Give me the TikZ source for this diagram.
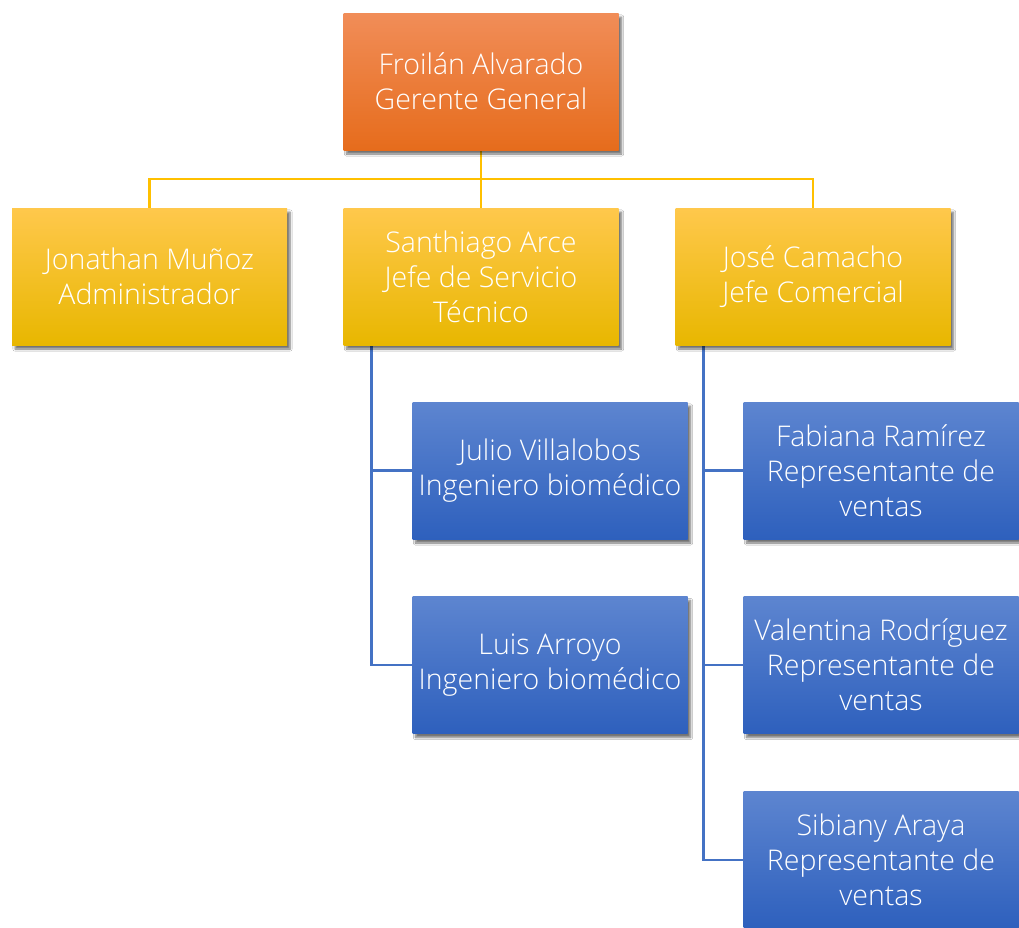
\documentclass[tikz,border=0pt]{standalone}
\usepackage{fontspec}
\setmainfont{Open Sans Light}
\usetikzlibrary{shadows.blur,backgrounds}
\definecolor{orTop}{HTML}{F18D58}
\definecolor{orBot}{HTML}{E66C1C}
\definecolor{yeTop}{HTML}{FFC84C}
\definecolor{yeMid}{HTML}{FFC300}
\definecolor{yeBot}{HTML}{E8B700}
\definecolor{blTop}{HTML}{5D85D0}
\definecolor{blBot}{HTML}{2E60BD}
\definecolor{yeLine}{HTML}{FFC000}
\definecolor{blLine}{HTML}{4472C4}
\tikzset{
  card/.style={minimum width=275pt, minimum height=137pt, inner sep=0pt,
    text=white, align=center, font=\fontsize{28.5}{35}\selectfont,
    blur shadow={shadow xshift=3pt, shadow yshift=-4pt, shadow opacity=55, shadow blur steps=6}},
  chief/.style={card, top color=orTop, bottom color=orBot},
  head/.style={card, top color=yeTop, middle color=yeMid, bottom color=yeBot},
  staff/.style={card, top color=blTop, bottom color=blBot},
  ylink/.style={draw=yeLine, line width=2.5pt},
  blink/.style={draw=blLine, line width=2.5pt}
}
\begin{document}
\begin{tikzpicture}[x=1pt, y=-1pt]
\useasboundingbox (0,0) rectangle (1019,927);

\node[chief] (top) at (481,81.5) {Froilán Alvarado\\Gerente General};
\node[head] (jon) at (149.5,276.5) {Jonathan Muñoz\\Administrador};
\node[head] (san) at (481,276.5) {Santhiago Arce\\Jefe de Servicio\\Técnico};
\node[head] (jose) at (813,276.5) {José Camacho\\Jefe Comercial};

\node[staff] (julio) at (550,470.5) {Julio Villalobos\\Ingeniero biomédico};
\node[staff] (luis) at (550,665) {Luis Arroyo\\Ingeniero biomédico};
\node[staff] (fab) at (881,470.5) {Fabiana Ramírez\\Representante de\\ventas};
\node[staff] (val) at (881,665) {Valentina Rodríguez\\Representante de\\ventas};
\node[staff] (sib) at (881,860) {Sibiany Araya\\Representante de\\ventas};

% connectors sit behind the boxes
\begin{scope}[on background layer]
\fill[white] (0,0) rectangle (1019,927);
\coordinate (bus) at (481,179);
\coordinate (sanTrunk) at ([xshift=28pt]san.south west);
\coordinate (joseTrunk) at ([xshift=28pt]jose.south west);

\draw[ylink] (top.south) -- (bus);
\draw[ylink] (bus) -| (jon.north);
\draw[ylink] (bus) -- (san.north);
\draw[ylink] (bus) -| (jose.north);

\draw[blink] (sanTrunk) |- (julio.west);
\draw[blink] (sanTrunk) |- (luis.west);
\draw[blink] (joseTrunk) |- (fab.west);
\draw[blink] (joseTrunk) |- (val.west);
\draw[blink] (joseTrunk) |- (sib.west);
\end{scope}
\end{tikzpicture}
\end{document}
